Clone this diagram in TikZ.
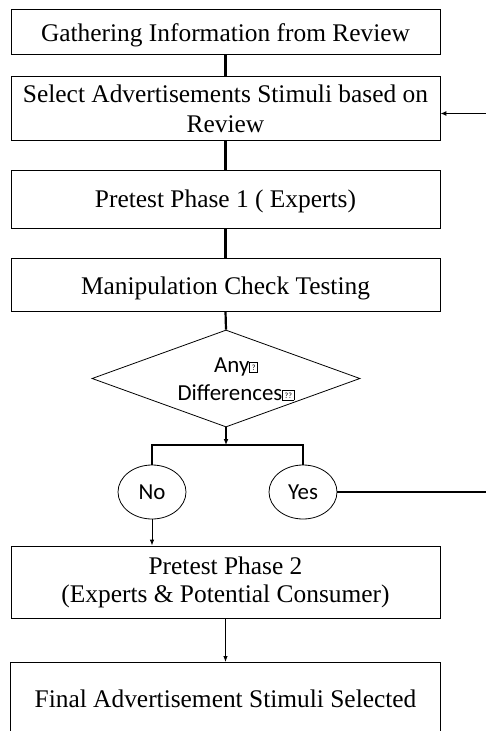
\documentclass[tikz,border=0pt]{standalone}
\usepackage{fontspec}
\setmainfont{Liberation Serif}
\newfontfamily\carfont{Carlito}
\usetikzlibrary{shapes.geometric,arrows.meta}
\newcommand{\qmk}[2]{{\fboxsep=0pt\fboxrule=0.5pt\fbox{\rule{0pt}{10bp}\makebox[#1]{\raisebox{1.5bp}{\fontsize{8}{8}\selectfont #2}}}}}
\tikzset{
  stepbox/.style={draw, line width=0.8pt, minimum width=429bp, inner sep=0pt, align=center, font=\fontsize{25.5}{30}\selectfont},
  bl/.style={text height=#1, text depth=0pt},
  thickline/.style={line width=2.2pt},
  thinarrow/.style={line width=0.9pt, -{Latex[length=6bp,width=4.5bp]}},
  thickarrow/.style={line width=1.8pt, -{Latex[length=6bp,width=5bp]}},
  oval/.style={draw, ellipse, line width=0.8pt, minimum width=68bp, minimum height=54bp, inner sep=0pt, font=\carfont\fontsize{23}{23}\selectfont},
}
\begin{document}
\begin{tikzpicture}[x=1bp,y=-1bp]
\useasboundingbox (0,0) rectangle (486,731);
\node[stepbox, bl=21bp, minimum height=45bp] (b1) at (225.5,31.5) {Gathering Information from Review};
\node[stepbox, minimum height=64bp] (b2) at (225.5,108.5) {Select Advertisements Stimuli based on\\Review};
\node[stepbox, bl=17.4bp, minimum height=58bp] (b3) at (225.5,199) {Pretest Phase 1 ( Experts)};
\node[stepbox, bl=19.6bp, minimum height=53bp] (b4) at (225.5,284.5) {Manipulation Check Testing};
\node[draw, diamond, line width=0.8pt, minimum width=268bp, minimum height=97bp, inner sep=0pt] (dia) at (226,378.5) {};
\node[align=center, inner sep=0pt, font=\carfont\fontsize{23}{28}\selectfont] (diatext) at (236,379) {Any\qmk{7.5bp}{?}\\Differences\qmk{11bp}{??}};
\coordinate (br) at (226,445);
\node[oval] (no) at (152,492) {No};
\node[oval] (yes) at (303,492) {Yes};
\node[stepbox, font=\fontsize{25.5}{28.3}\selectfont, minimum height=72bp] (b5) at (225.5,582) {Pretest Phase 2\\(Experts \& Potential Consumer)};
\node[stepbox, draw=none, bl=20.4bp, minimum height=69bp, anchor=north] (b6) at (225.5,662) {Final Advertisement Stimuli Selected};
\draw[line width=0.8pt] (b6.south west) -- (b6.north west) -- (b6.north east) -- (b6.south east);
\coordinate (re1) at (486,492);
\coordinate (re2) at (486,113.5);
\draw[thickline] (b1.south) -- (b2.north);
\draw[thickline] (b2.south) -- (b3.north);
\draw[thickline] (b3.south) -- (b4.north);
\draw[thickline] (b4.south) -- (dia.north);
\draw[thickarrow] (dia.south) -- (br);
\draw[thickline] (no.north) -- (no.north |- br) -- (yes.north |- br) -- (yes.north);
\draw[thickline] (yes.east) -- (re1);
\draw[thickarrow] (re2) -- (b2.east |- re2);
\draw[thinarrow] (no.south) -- (no.south |- b5.north);
\draw[thinarrow] (b5.south) -- (b6.north);
\end{tikzpicture}
\end{document}
